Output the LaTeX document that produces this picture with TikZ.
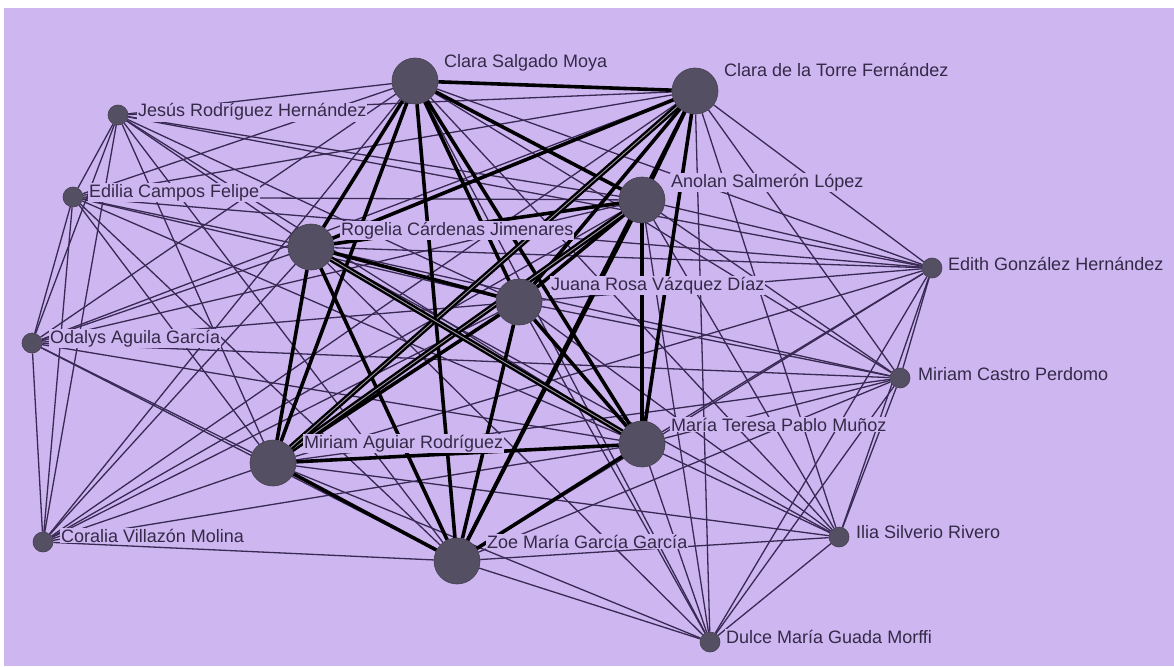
\documentclass[tikz,border=0pt]{standalone}
\usepackage{fontspec}
\setmainfont{Liberation Sans}
\begin{document}
\pgfdeclarelayer{canvas}
\pgfdeclarelayer{links}
\pgfsetlayers{canvas,links,main}
\definecolor{paper}{RGB}{206,182,240}
\definecolor{vertex}{RGB}{84,79,98}
\definecolor{weak}{RGB}{56,42,84}
\definecolor{ink}{RGB}{52,42,72}
\begin{tikzpicture}[x=1pt,y=-1pt,
  hub/.style={circle,fill=vertex,draw=vertex!80!black,line width=0.6pt,minimum size=46pt,inner sep=0pt},
  leaf/.style={circle,fill=vertex,draw=vertex!80!black,line width=0.6pt,minimum size=20pt,inner sep=0pt},
  personlabel/.style={anchor=base west,fill=paper,inner sep=1pt,text=ink,font=\fontsize{18}{20}\selectfont},
  strong/.style={line width=3.6pt,black},
  twofold/.style={line width=2.4pt,black,double=paper!40!gray,double distance=0.9pt},
  weaklink/.style={line width=1.3pt,weak}]
\useasboundingbox (0,0) rectangle (1174,666);
\begin{pgfonlayer}{canvas}
  \fill[white] (0,0) rectangle (1174,666);
  \fill[paper] (4,8) rectangle (1174,666);
\end{pgfonlayer}

% central members
\node[hub] (cs) at (415,81) {};
\node[hub] (ct) at (695,91) {};
\node[hub] (an) at (642,200) {};
\node[hub] (ro) at (311,247) {};
\node[hub] (ju) at (519,302) {};
\node[hub] (ma) at (273,463) {};
\node[hub] (mt) at (642,444) {};
\node[hub] (zo) at (457,561) {};
% peripheral members
\node[leaf] (je) at (118,115) {};
\node[leaf] (ed) at (73,197) {};
\node[leaf] (od) at (32,343) {};
\node[leaf] (co) at (43,542) {};
\node[leaf] (eg) at (932,268) {};
\node[leaf] (mc) at (900,378) {};
\node[leaf] (il) at (839,537) {};
\node[leaf] (du) at (710,642) {};

\begin{pgfonlayer}{links}
  % peripheral to central
  \foreach \s in {je,ed,od,co,eg,mc,il,du}
    \foreach \h in {cs,ct,an,ro,ju,ma,mt,zo}
      \draw[weaklink] (\s) -- (\h);
  % among peripheral members
  \foreach \a/\b in {je/ed,je/od,je/co,ed/od,ed/co,od/co,
                     eg/mc,eg/il,eg/du,mc/il,mc/du,il/du,
                     je/eg,ed/eg,od/mc}
    \draw[weaklink] (\a) -- (\b);
  % among central members
  \foreach \a/\b in {cs/ct,cs/an,cs/ro,cs/ju,cs/ma,cs/mt,cs/zo,
                     ct/an,ct/ro,ct/ju,ct/mt,ct/zo,
                     an/ro,an/ju,an/mt,an/zo,
                     ro/ju,ro/ma,ro/zo,
                     ju/ma,ju/mt,ju/zo,
                     ma/mt,ma/zo,mt/zo}
    \draw[strong] (\a) -- (\b);
  % heaviest ties, drawn as paired strokes
  \foreach \a/\b in {ma/an,ma/ct,ro/mt}
    \draw[twofold] (\a) -- (\b);
\end{pgfonlayer}

% names
\node[personlabel] (lcs) at (443,68) {Clara Salgado Moya};
\node[personlabel] (lct) at (723,77) {Clara de la Torre Fernández};
\node[personlabel] (lan) at (670,187) {Anolan Salmerón López};
\node[personlabel] (lro) at (340,235) {Rogelia Cárdenas Jimenares};
\node[personlabel] (lju) at (550,290) {Juana Rosa Vázquez Díaz};
\node[personlabel] (lma) at (303,448) {Miriam Aguiar Rodríguez};
\node[personlabel] (lmt) at (670,431) {María Teresa Pablo Muñoz};
\node[personlabel] (lzo) at (486,548) {Zoe María García García};
\node[personlabel] (lje) at (137,117) {Jesús Rodríguez Hernández};
\node[personlabel] (led) at (88,197) {Edilia Campos Felipe};
\node[personlabel] (lod) at (49,343) {Odalys Aguila García};
\node[personlabel] (lco) at (60,542) {Coralia Villazón Molina};
\node[personlabel] (leg) at (947,270) {Edith González Hernández};
\node[personlabel] (lmc) at (917,380) {Miriam Castro Perdomo};
\node[personlabel] (lil) at (855,538) {Ilia Silverio Rivero};
\node[personlabel] (ldu) at (725,643) {Dulce María Guada Morffi};
\end{tikzpicture}
\end{document}
